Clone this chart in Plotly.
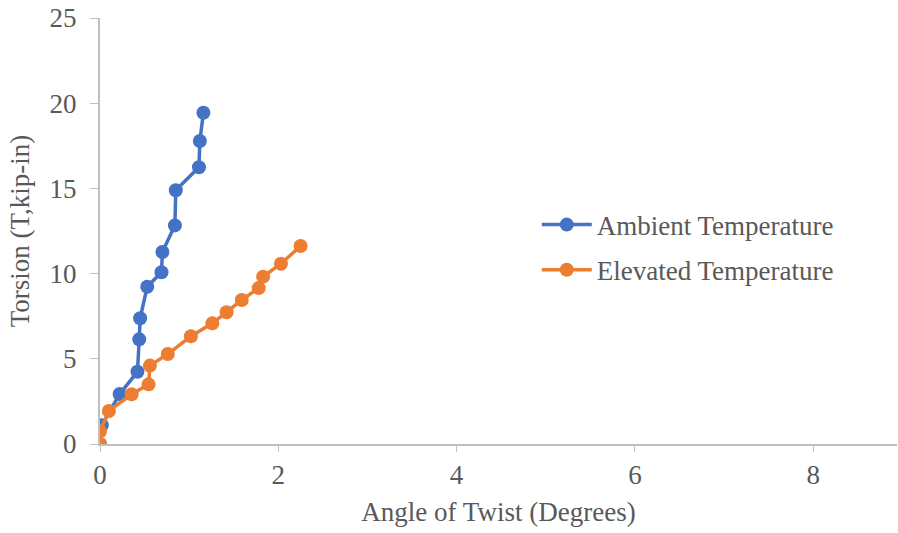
import plotly.graph_objects as go

# Torsion test results: angle of twist (degrees) vs applied torsion (kip-in)
ambient_twist = [0.0, 0.02, 0.22, 0.42, 0.44, 0.45, 0.53, 0.69, 0.70, 0.84, 0.85, 1.11, 1.12, 1.16]
ambient_torsion = [0.0, 1.1, 2.93, 4.24, 6.14, 7.38, 9.23, 10.08, 11.27, 12.83, 14.89, 16.24, 17.78, 19.44]

elevated_twist = [0.0, 0.0, 0.10, 0.355, 0.545, 0.56, 0.76, 1.02, 1.26, 1.42, 1.59, 1.78, 1.83, 2.03, 2.25]
elevated_torsion = [0.0, 0.74, 1.94, 2.92, 3.5, 4.6, 5.28, 6.32, 7.08, 7.73, 8.45, 9.15, 9.82, 10.58, 11.62]

x_ticks = [0, 2, 4, 6, 8]
y_ticks = [0, 5, 10, 15, 20, 25]

BLUE = "#4472C4"
ORANGE = "#ED7D31"
TEXT = "#595959"
AXIS = "#BFBFBF"
FONT = "Liberation Serif, Times New Roman, serif"
SIZE = 27

fig = go.Figure()
fig.add_trace(go.Scatter(
    x=ambient_twist, y=ambient_torsion, name="Ambient Temperature",
    mode="lines+markers",
    line=dict(color=BLUE, width=3.5),
    marker=dict(color=BLUE, size=14),
    legend="legend",
))
fig.add_trace(go.Scatter(
    x=elevated_twist, y=elevated_torsion, name="Elevated Temperature",
    mode="lines+markers",
    line=dict(color=ORANGE, width=3.5),
    marker=dict(color=ORANGE, size=14),
    legend="legend2",
))

legend_style = dict(
    xanchor="left", yanchor="middle",
    bgcolor="rgba(0,0,0,0)",
    font=dict(family=FONT, size=SIZE, color=TEXT),
    itemwidth=50,
)

fig.update_layout(
    width=898, height=533,
    margin=dict(l=100, r=1, t=18, b=89),
    paper_bgcolor="white", plot_bgcolor="white",
    font=dict(family=FONT, size=SIZE, color=TEXT),
    showlegend=True,
    legend=dict(x=0.548, y=0.514, **legend_style),
    legend2=dict(x=0.548, y=0.408, **legend_style),
    xaxis=dict(
        range=[0, 8.94], tickvals=x_ticks,
        showgrid=False, zeroline=False,
        showline=True, linecolor=AXIS, linewidth=2,
        ticks="outside", tickcolor=AXIS, ticklen=6, tickwidth=1,
        tickfont=dict(family=FONT, size=SIZE, color=TEXT),
        title=dict(text="Angle of Twist (Degrees)", standoff=13,
                   font=dict(family=FONT, size=SIZE, color=TEXT)),
    ),
    yaxis=dict(
        range=[0, 25], tickvals=y_ticks,
        showgrid=False, zeroline=False,
        showline=True, linecolor=AXIS, linewidth=2,
        ticks="outside", tickcolor=AXIS, ticklen=8, tickwidth=1,
        ticklabelstandoff=8,
        tickfont=dict(family=FONT, size=SIZE, color=TEXT),
        title=dict(text="Torsion (T,kip-in)", standoff=12,
                   font=dict(family=FONT, size=SIZE, color=TEXT)),
    ),
)

fig.write_html("out.html")
